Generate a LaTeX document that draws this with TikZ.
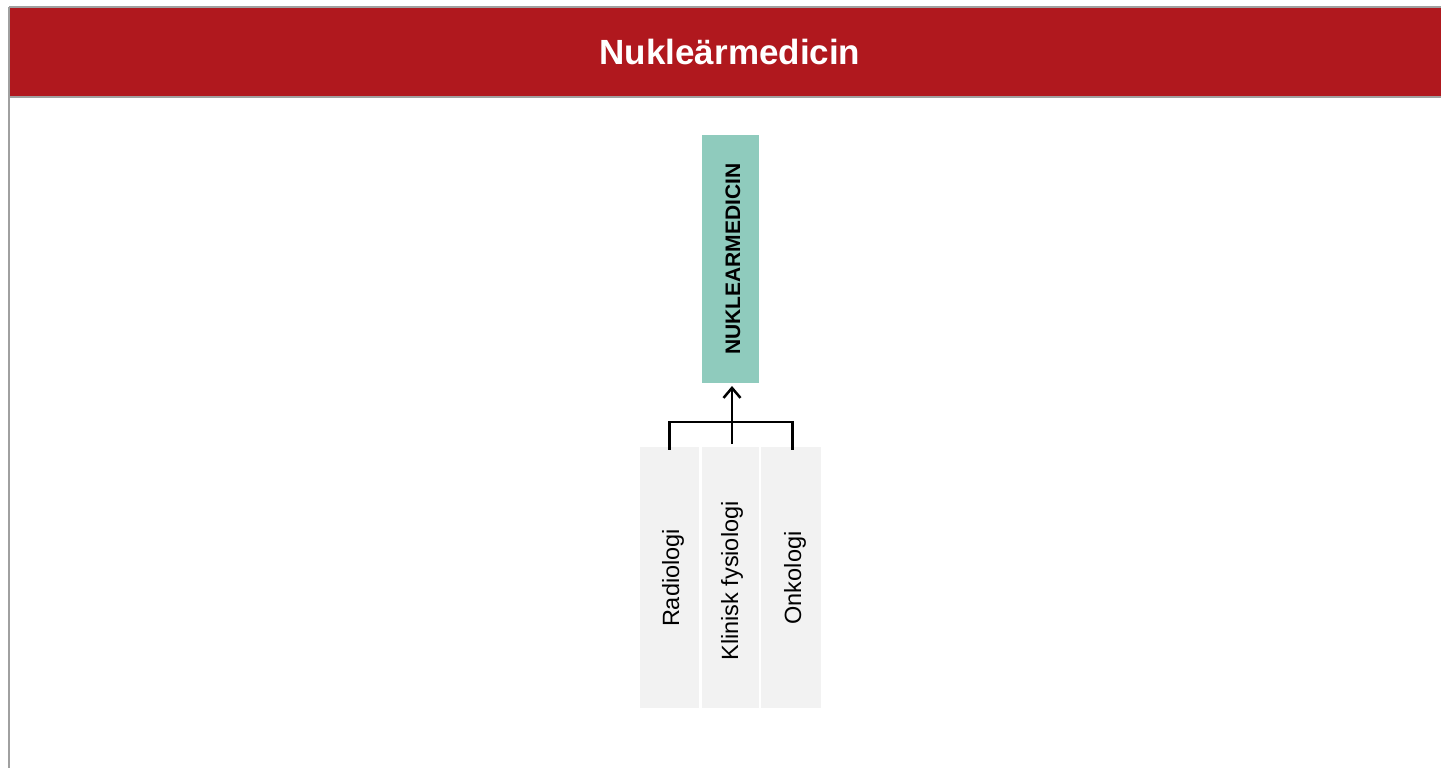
\documentclass[tikz,border=0pt]{standalone}
\usepackage{fontspec}
\setmainfont{Liberation Sans}
\usetikzlibrary{arrows.meta}
\definecolor{hdrred}{RGB}{176,24,30}
\definecolor{teal1}{RGB}{143,203,189}
\definecolor{boxgray}{RGB}{242,242,242}
\definecolor{framegray}{RGB}{160,160,160}
\tikzset{
  mainbox/.style={fill=teal1, draw=none, minimum width=57pt, minimum height=248pt, inner sep=0pt},
  subbox/.style={fill=boxgray, draw=none, minimum width=59pt, minimum height=261pt, inner sep=0pt},
  vlabel/.style={rotate=90, font=\fontsize{23.5}{26}\selectfont},
  conn/.style={draw=black, line width=2.5pt},
}
\begin{document}
\begin{tikzpicture}[x=1pt,y=-1pt]
\useasboundingbox (0,0) rectangle (1441,768);
\fill[white] (0,0) rectangle (1441,768);
% outer frame
\draw[framegray, line width=2pt] (9,7) -- (1460,7);
\draw[framegray, line width=2pt] (9,7) -- (9,790);
% header bar
\fill[hdrred] (10,8) rectangle (1460,97);
\draw[framegray, line width=2pt] (9,97) -- (1460,97);
\node[text=white, font=\bfseries\fontsize{35}{38}\selectfont] (title) at (730,52) {Nukleärmedicin};
% main node
\node[mainbox] (main) at (730.5,259) {};
\node[vlabel, font=\bfseries\fontsize{21}{24}\selectfont] (mainlbl) at (733,259) {NUKLEARMEDICIN};
% sub nodes
\node[subbox] (rad) at (669.5,577.5) {};
\node[subbox, minimum width=57pt] (kf) at (730.5,577.5) {};
\node[subbox, minimum width=60pt] (onk) at (791,577.5) {};
\node[vlabel] (radl) at (673,578) {Radiologi};
\node[vlabel] (kfl) at (732,581) {Klinisk fysiologi};
\node[vlabel] (onkl) at (795,578) {Onkologi};
% connectors
\coordinate (j) at (732,422);
\coordinate (kfn) at (732,444);
\coordinate (mainb) at (732,386);
\draw[conn] ([yshift=-3pt]rad.north) |- (j);
\draw[conn] ([xshift=1.5pt,yshift=-3pt]onk.north) |- (j);
\draw[conn, -{Straight Barb[length=10pt,width=17pt,line width=2.5pt]}] (kfn) -- (mainb);
\end{tikzpicture}
\end{document}
